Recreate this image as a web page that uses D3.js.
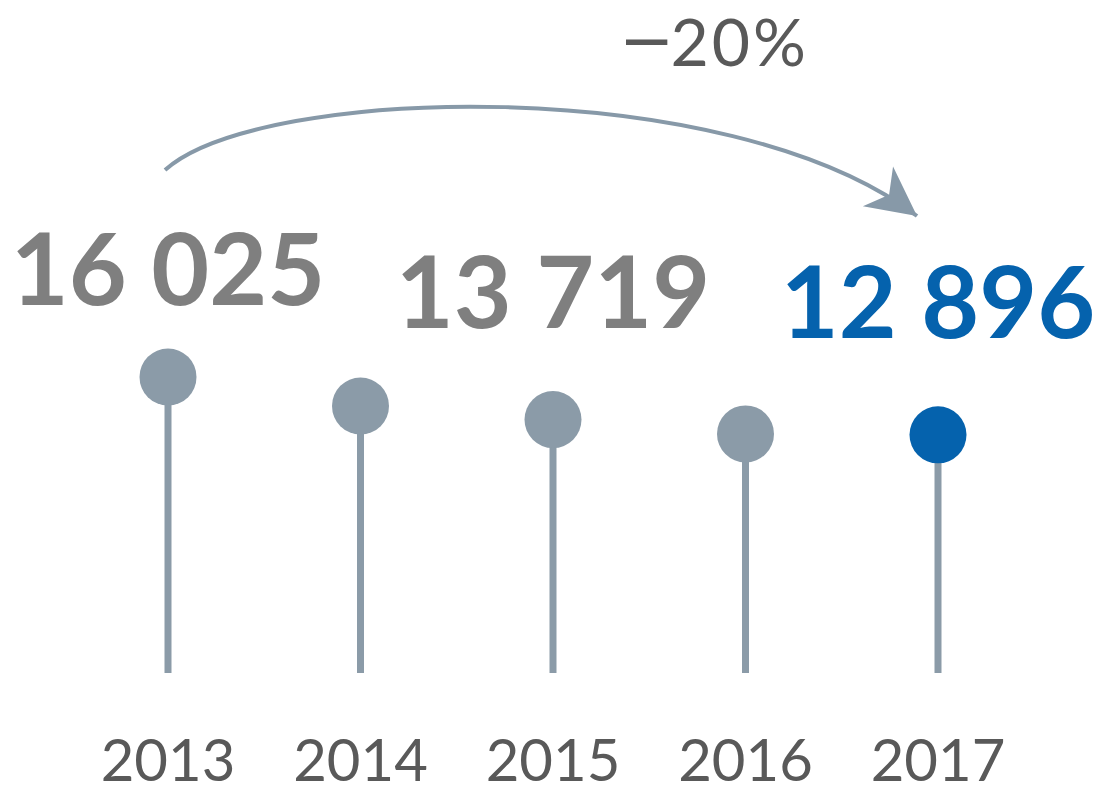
<!DOCTYPE html>
<html>
<head>
<meta charset="utf-8">
<script src="https://cdn.jsdelivr.net/npm/d3@7"></script>
<style>
  body { margin: 0; background: #fff; }
  text { font-family: Lato, "Open Sans", sans-serif; }
</style>
</head>
<body>
<div id="chart"></div>
<script>
// data
var years = ["2013", "2014", "2015", "2016", "2017"];
var values = [16025, 14455, 13719, 12945, 12896];
var labelled = ["2013", "2015", "2017"];
var changeSign = "\u2212";
var changeLabel = "20%";

function init() {
    var w = 1102;
    var h = 793;
    var r = 28.5;
    var baseY = 673;
    var grey = "#8b9ba8";
    var blue = "#0562ad";

    var svg = d3.select("#chart")
        .append("svg")
        .attr("width", w)
        .attr("height", h);

    var xScale = d3.scalePoint()
        .domain(years)
        .range([168, 938]);

    var yScale = d3.scaleLinear()
        .domain([0, d3.max(values)])
        .range([baseY, 377]);

    var data = years.map(function(y, i) { return { year: y, value: values[i] }; });
    var last = years[years.length - 1];

    // stems
    svg.selectAll("line.stem")
        .data(data)
        .enter().append("line")
        .attr("class", "stem")
        .attr("x1", function(d) { return xScale(d.year); })
        .attr("x2", function(d) { return xScale(d.year); })
        .attr("y1", function(d) { return yScale(d.value); })
        .attr("y2", yScale(0))
        .attr("stroke", grey)
        .attr("stroke-width", 7);

    // heads
    svg.selectAll("circle.head")
        .data(data)
        .enter().append("circle")
        .attr("class", "head")
        .attr("cx", function(d) { return xScale(d.year); })
        .attr("cy", function(d) { return yScale(d.value); })
        .attr("r", r)
        .attr("fill", function(d) { return d.year === last ? blue : grey; });

    // value labels (only some years carry one)
    var lift = { "2013": 72, "2015": 92, "2017": 97 };
    var fmt = function(v) { return d3.format(",")(v).replace(",", " "); };
    svg.selectAll("text.value")
        .data(data.filter(function(d) { return labelled.indexOf(d.year) >= 0; }))
        .enter().append("text")
        .attr("class", "value")
        .attr("x", function(d) { return xScale(d.year); })
        .attr("y", function(d) { return yScale(d.value) - lift[d.year]; })
        .attr("text-anchor", "middle")
        .attr("font-size", 100)
        .attr("font-weight", 700)
        .attr("fill", function(d) { return d.year === last ? blue : "#7f7f7f"; })
        .text(function(d) { return fmt(d.value); });

    // year axis labels
    svg.selectAll("text.year")
        .data(years)
        .enter().append("text")
        .attr("class", "year")
        .attr("x", function(d) { return xScale(d); })
        .attr("y", 781)
        .attr("text-anchor", "middle")
        .attr("font-size", 58)
        .attr("fill", "#595959")
        .text(function(d) { return d; });

    // curved arrow from first to last year
    var defs = svg.append("defs");
    defs.append("marker")
        .attr("id", "head")
        .attr("markerUnits", "userSpaceOnUse")
        .attr("viewBox", "-52 -27 54 54")
        .attr("refX", 0)
        .attr("refY", 0)
        .attr("markerWidth", 54)
        .attr("markerHeight", 54)
        .attr("orient", "auto")
        .append("path")
        .attr("d", "M0,0 L-49,-25 L-35,0 L-49,25 Z")
        .attr("fill", "#8799a8");

    var x0 = xScale(years[0]) - 3;
    var x1 = xScale(last) - 21;
    var path = d3.path();
    path.moveTo(x0, 170);
    path.bezierCurveTo(x0 + 95, 85, 727, 72, x1, 216);
    svg.append("path")
        .attr("d", path.toString())
        .attr("fill", "none")
        .attr("stroke", "#8799a8")
        .attr("stroke-width", 4)
        .attr("marker-end", "url(#head)");

    var change = svg.append("text")
        .attr("x", 714)
        .attr("y", 66)
        .attr("text-anchor", "middle")
        .attr("font-size", 66)
        .attr("fill", "#595959");
    change.append("tspan")
        .attr("font-family", "DejaVu Sans")
        .attr("letter-spacing", -4)
        .attr("dy", -3)
        .text(changeSign);
    change.append("tspan")
        .attr("letter-spacing", 3)
        .attr("dy", 3)
        .text(changeLabel);
}

window.onload = init;
</script>
</body>
</html>
